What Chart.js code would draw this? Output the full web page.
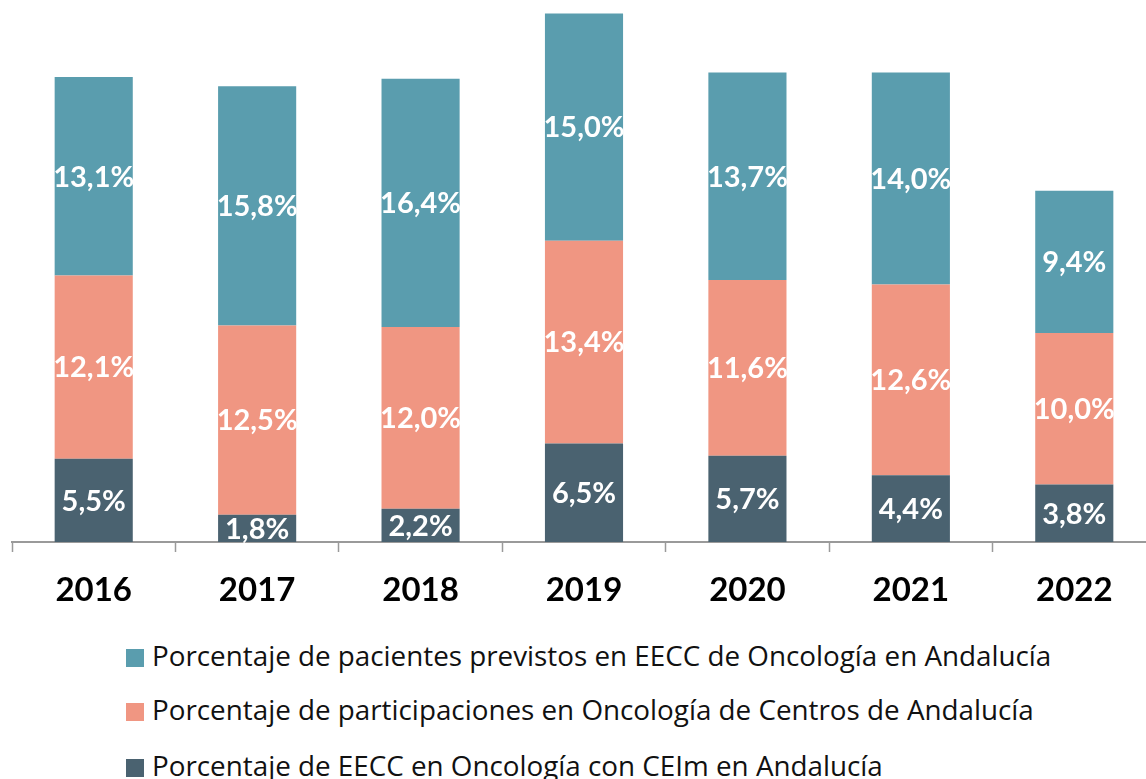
<!DOCTYPE html>
<html>
<head>
<meta charset="utf-8">
<script src="https://cdn.jsdelivr.net/npm/chart.js@4"></script>
<style>
  html, body { margin: 0; padding: 0; background: #fff; overflow: hidden; }
  #wrap { position: relative; width: 1146px; height: 779px; overflow: hidden; }
  #chartBox { position: absolute; left: 0; top: 0; width: 1156px; height: 625px; }
  .legend { position: absolute; left: 126px; font-family: "Open Sans", Lato, sans-serif; font-size: 27.8px; line-height: 30px; color: #111; white-space: nowrap; }
  .legend span.sw { display: inline-block; width: 18px; height: 18px; margin-right: 8px; vertical-align: -1px; }
</style>
</head>
<body>
<div id="wrap">
  <div id="chartBox"><canvas id="chart"></canvas></div>
  <div class="legend" style="top:640px"><span class="sw" style="background:#5A9DAE"></span>Porcentaje de pacientes previstos en EECC de Oncología en Andalucía</div>
  <div class="legend" style="top:694px"><span class="sw" style="background:#F09682"></span>Porcentaje de participaciones en Oncología de Centros de Andalucía</div>
  <div class="legend" style="top:750px"><span class="sw" style="background:#4A6270"></span>Porcentaje de EECC en Oncología con CEIm en Andalucía</div>
</div>
<script>
const years = ['2016', '2017', '2018', '2019', '2020', '2021', '2022'];
const ceimValues = [5.5, 1.8, 2.2, 6.5, 5.7, 4.4, 3.8];
const participacionesValues = [12.1, 12.5, 12.0, 13.4, 11.6, 12.6, 10.0];
const pacientesValues = [13.1, 15.8, 16.4, 15.0, 13.7, 14.0, 9.4];

const seriesNames = [
    'Porcentaje de EECC en Oncología con CEIm en Andalucía',
    'Porcentaje de participaciones en Oncología de Centros de Andalucía',
    'Porcentaje de pacientes previstos en EECC de Oncología en Andalucía'
];

// draws the white percentage labels in the middle of each segment
const barLabels = {
    id: 'barLabels',
    afterDatasetsDraw(chart) {
        const ctx = chart.ctx;
        ctx.save();
        ctx.fillStyle = '#fff';
        ctx.font = 'bold 29px Lato, "Open Sans", sans-serif';
        ctx.textAlign = 'center';
        ctx.textBaseline = 'middle';
        chart.data.datasets.forEach((ds, i) => {
            chart.getDatasetMeta(i).data.forEach((bar, j) => {
                const txt = ds.data[j].toFixed(1).replace('.', ',') + '%';
                ctx.fillText(txt, bar.x, (bar.y + bar.base) / 2 + 1);
            });
        });
        ctx.restore();
    }
};

function setupChart() {
    const ctx = document.getElementById('chart').getContext('2d');
    new Chart(ctx, {
        type: 'bar',
        data: {
            labels: years,
            datasets: [
                { label: seriesNames[0], data: ceimValues, backgroundColor: '#4A6270' },
                { label: seriesNames[1], data: participacionesValues, backgroundColor: '#F09682' },
                { label: seriesNames[2], data: pacientesValues, backgroundColor: '#5A9DAE' }
            ]
        },
        options: {
            responsive: true,
            maintainAspectRatio: false,
            animation: false,
            datasets: { bar: { barPercentage: 0.478, categoryPercentage: 1 } },
            layout: { padding: { left: 12, top: 12, right: 0, bottom: 0 } },
            plugins: { legend: { display: false }, tooltip: { enabled: false } },
            scales: {
                x: {
                    stacked: true,
                    afterFit(scale) { scale.height = 83; },
                    border: { display: true, color: '#9a9a9a', width: 2 },
                    grid: { display: true, drawOnChartArea: false, drawTicks: true, tickLength: 10, color: '#9a9a9a', tickWidth: 1.5 },
                    ticks: { color: '#000', padding: 19, font: { family: 'Lato, "Open Sans", sans-serif', size: 33, weight: 'bold' } }
                },
                y: {
                    stacked: true,
                    display: false,
                    min: 0,
                    max: 35
                }
            }
        },
        plugins: [barLabels]
    });
}

document.addEventListener('DOMContentLoaded', setupChart);
</script>
</body>
</html>
